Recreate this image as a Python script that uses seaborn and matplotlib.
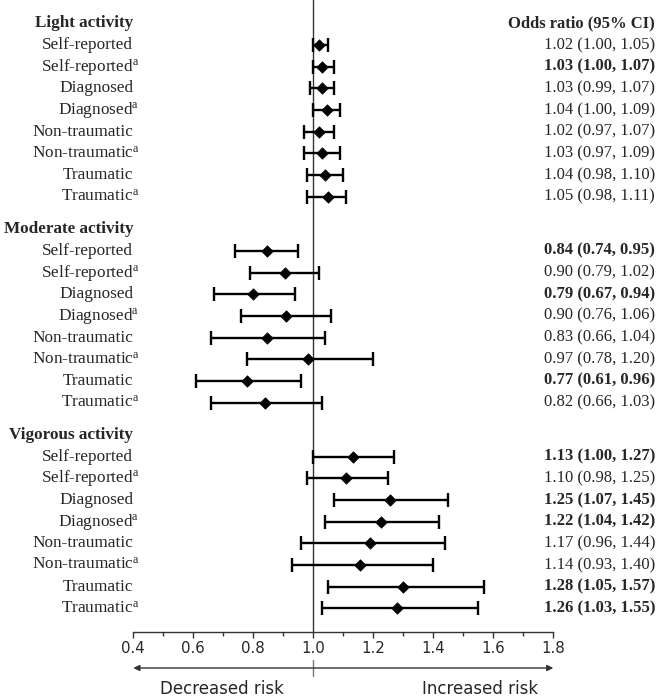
import numpy as np
import pandas as pd
import matplotlib
matplotlib.use('Agg')
import matplotlib.pyplot as plt
import matplotlib.transforms as mtransforms
from matplotlib.ticker import MultipleLocator
import seaborn as sns

# groups and outcome rows
groups = ['Light activity', 'Moderate activity', 'Vigorous activity']
outcomes = ['Self-reported', 'Self-reported', 'Diagnosed', 'Diagnosed',
            'Non-traumatic', 'Non-traumatic', 'Traumatic', 'Traumatic']
adjusted = [False, True, False, True, False, True, False, True]

# odds ratios as printed in the table column
light_or = [1.02, 1.03, 1.03, 1.04, 1.02, 1.03, 1.04, 1.05]
light_lo = [1.00, 1.00, 0.99, 1.00, 0.97, 0.97, 0.98, 0.98]
light_hi = [1.05, 1.07, 1.07, 1.09, 1.07, 1.09, 1.10, 1.11]
moderate_or = [0.84, 0.90, 0.79, 0.90, 0.83, 0.97, 0.77, 0.82]
moderate_lo = [0.74, 0.79, 0.67, 0.76, 0.66, 0.78, 0.61, 0.66]
moderate_hi = [0.95, 1.02, 0.94, 1.06, 1.04, 1.20, 0.96, 1.03]
vigorous_or = [1.13, 1.10, 1.25, 1.22, 1.17, 1.14, 1.28, 1.26]
vigorous_lo = [1.00, 0.98, 1.07, 1.04, 0.96, 0.93, 1.05, 1.03]
vigorous_hi = [1.27, 1.25, 1.45, 1.42, 1.44, 1.40, 1.57, 1.55]

# diamond positions as drawn in the figure
light_mark = [1.02, 1.03, 1.03, 1.045, 1.02, 1.03, 1.04, 1.05]
moderate_mark = [0.845, 0.905, 0.80, 0.908, 0.845, 0.983, 0.78, 0.838]
vigorous_mark = [1.133, 1.11, 1.257, 1.227, 1.19, 1.156, 1.30, 1.28]

# which table entries are bold (significant)
light_bold = [False, True, False, False, False, False, False, False]
moderate_bold = [True, False, True, False, False, False, True, False]
vigorous_bold = [True, False, True, True, False, False, True, True]

xticks = [0.4, 0.6, 0.8, 1.0, 1.2, 1.4, 1.6, 1.8]

# build one table
group_start = [0, 9.5, 19]
rows = []
for g, name in enumerate(groups):
    ors = [light_or, moderate_or, vigorous_or][g]
    los = [light_lo, moderate_lo, vigorous_lo][g]
    his = [light_hi, moderate_hi, vigorous_hi][g]
    marks = [light_mark, moderate_mark, vigorous_mark][g]
    bolds = [light_bold, moderate_bold, vigorous_bold][g]
    for i in range(len(outcomes)):
        rows.append(dict(group=name, outcome=outcomes[i], adj=adjusted[i],
                         y=group_start[g] + 1 + i, mark=marks[i],
                         odds=ors[i], lo=los[i], hi=his[i], bold=bolds[i]))
df = pd.DataFrame(rows)

sns.set_theme(style='white')
plt.rcParams['font.family'] = ['Liberation Serif', 'DejaVu Serif']
plt.rcParams['mathtext.fontset'] = 'custom'
plt.rcParams['mathtext.rm'] = 'Liberation Serif'
plt.rcParams['mathtext.bf'] = 'Liberation Serif:bold'
plt.rcParams['mathtext.it'] = 'Liberation Serif:italic'

W, H = 660, 698
fig = plt.figure(figsize=(W / 100, H / 100), dpi=100)
ax_left, ax_right, ax_bottom = 133.3, 553.3, 631.7
ax = fig.add_axes([ax_left / W, 1 - ax_bottom / H, (ax_right - ax_left) / W, ax_bottom / H])

# reference line
ax.axvline(1.0, color='#333333', lw=1.0, zorder=1)

# CI bars
ax.errorbar(df['mark'], df['y'],
            xerr=[df['mark'] - df['lo'], df['hi'] - df['mark']],
            fmt='none', ecolor='black', elinewidth=1.7, capsize=5, capthick=1.7, zorder=2)
sns.scatterplot(data=df, x='mark', y='y', marker='D', s=34, color='black',
                edgecolor='black', linewidth=0.5, ax=ax, zorder=3, legend=False)

ax.set_xlim(0.4, 1.8)
row_px = 21.67
top_px = 23.3
ax.set_ylim((ax_bottom - top_px) / row_px, -top_px / row_px)
ax.set_xticks(xticks)
ax.set_xticklabels([f'{t:.1f}' for t in xticks], family='DejaVu Sans', fontsize=10.8)
ax.xaxis.set_minor_locator(MultipleLocator(0.1))
ax.tick_params(axis='x', which='major', direction='out', length=4, width=1,
               color='#333333', bottom=True, pad=3)
ax.tick_params(axis='x', which='minor', direction='out', length=3, width=1,
               color='#333333', bottom=True)
ax.set_yticks([])
ax.set_xlabel('')
ax.set_ylabel('')
for s in ['left', 'right', 'top']:
    ax.spines[s].set_visible(False)
ax.spines['bottom'].set_color('#333333')
ax.spines['bottom'].set_linewidth(1.0)

trans = mtransforms.blended_transform_factory(fig.transFigure, ax.transData)
fs_lab = 12.4
fs_head = 12.3
fs_val = 12
# headers
for g, name in enumerate(groups):
    ax.text(ax_left / W, group_start[g], name, transform=trans, ha='right', va='center',
            fontsize=fs_head, fontweight='bold')
ax.text(655 / W, 0, 'Odds ratio (95% CI)', transform=trans, ha='right', va='center',
        fontsize=fs_val, fontweight='bold')

for _, r in df.iterrows():
    if r['adj']:
        ax.text(139.5 / W, r['y'], r['outcome'] + r'$^{\mathrm{a}}$', transform=trans,
                ha='right', va='center', fontsize=fs_lab)
    else:
        ax.text(ax_left / W, r['y'], r['outcome'], transform=trans,
                ha='right', va='center', fontsize=fs_lab)
    txt = f"{r['odds']:.2f} ({r['lo']:.2f}, {r['hi']:.2f})"
    ax.text(655 / W, r['y'], txt, transform=trans, ha='right', va='center',
            fontsize=fs_val, fontweight='bold' if r['bold'] else 'normal')

# direction arrow under the axis
btrans = mtransforms.blended_transform_factory(ax.transData, fig.transFigure)
ya = 1 - 668 / H
ax.annotate('', xy=(0.4, ya), xytext=(1.8, ya), xycoords=btrans, textcoords=btrans,
            arrowprops=dict(arrowstyle='<|-|>', color='#333333', lw=1.0,
                            mutation_scale=9, shrinkA=0, shrinkB=0))
ax.plot([1.0, 1.0], [1 - 660 / H, 1 - 676 / H], transform=btrans, color='#777777',
        lw=1.0, clip_on=False)
fig.text(221.5 / W, 1 - 689 / H, 'Decreased risk', family='DejaVu Sans', fontsize=12,
         ha='center', va='center')
fig.text(480 / W, 1 - 689 / H, 'Increased risk', family='DejaVu Sans', fontsize=12,
         ha='center', va='center')

fig.savefig('out.png', dpi=100)
